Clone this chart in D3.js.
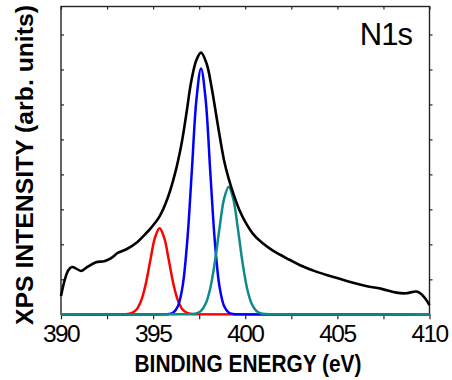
<!DOCTYPE html>
<html>
<head>
<meta charset="utf-8">
<script src="https://cdn.jsdelivr.net/npm/d3@7"></script>
<style>
  body { margin: 0; background: #fff; }
  svg { display: block; }
  text { font-family: "Liberation Sans", Arial, sans-serif; fill: #000; }
</style>
</head>
<body>
<div id="chart"></div>
<script>
// binding energy (eV), intensity (arb. units)
const envelope = [
  [390.0, 0.52], [390.2, 0.98], [390.4, 1.26], [390.6, 1.35], [390.85, 1.30],
  [391.1, 1.24], [391.45, 1.36], [391.9, 1.49], [392.35, 1.52], [392.7, 1.60],
  [393.1, 1.76], [393.55, 1.86], [394.15, 2.07], [394.55, 2.28], [394.9, 2.48],
  [395.35, 2.80], [395.8, 3.34], [396.2, 4.05], [396.55, 4.90], [396.8, 5.72],
  [397.08, 6.69], [397.35, 7.27], [397.6, 7.48], [397.9, 7.17], [398.17, 6.50],
  [398.5, 5.45], [398.85, 4.40], [399.1, 3.88], [399.4, 3.38], [399.7, 2.96],
  [400.0, 2.64], [400.42, 2.30], [400.9, 2.05], [401.5, 1.82], [402.4, 1.56],
  [402.95, 1.41], [403.85, 1.22], [404.7, 1.08], [405.65, 0.93], [406.55, 0.81],
  [407.45, 0.72], [408.2, 0.62], [408.7, 0.60], [409.3, 0.65], [409.55, 0.58],
  [409.8, 0.43], [410.0, 0.26],
];

const peakRed = [
  [390, 0], [393.35, 0], [393.6, 0.008], [393.85, 0.038], [394.1, 0.136],
  [394.35, 0.39], [394.6, 0.87], [394.85, 1.55], [395.1, 2.19], [395.35, 2.46],
  [395.6, 2.19], [395.85, 1.55], [396.1, 0.87], [396.35, 0.39], [396.6, 0.136],
  [396.85, 0.038], [397.1, 0.008], [397.35, 0], [410, 0],
];

const peakBlue = [
  [390, 0], [395.6, 0], [395.85, 0.009], [396.1, 0.053], [396.35, 0.237],
  [396.6, 0.80], [396.85, 2.08], [397.1, 4.09], [397.35, 6.14], [397.6, 7.03],
  [397.85, 6.14], [398.1, 4.09], [398.35, 2.08], [398.6, 0.80], [398.85, 0.237],
  [399.1, 0.053], [399.35, 0.009], [399.6, 0], [410, 0],
];

const peakTeal = [
  [390, 0], [396.85, 0], [397.1, 0.006], [397.35, 0.028], [397.6, 0.10],
  [397.85, 0.30], [398.1, 0.74], [398.35, 1.49], [398.6, 2.45], [398.85, 3.30],
  [399.1, 3.65], [399.35, 3.30], [399.6, 2.45], [399.85, 1.49], [400.1, 0.74],
  [400.35, 0.30], [400.6, 0.10], [400.85, 0.028], [401.1, 0.006], [401.35, 0], [410, 0],
];

const xTicks = [390, 395, 400, 405, 410];
const xMinorTicks = [392.5, 397.5, 402.5, 407.5];
const yTicks = [1, 2, 3, 4, 5, 6, 7, 8];

const width = 452;
const height = 380;
const margin = { top: 6.5, right: 22.5, bottom: 65.7, left: 61 };
const innerW = width - margin.left - margin.right;
const innerH = height - margin.top - margin.bottom;

const svg = d3.select('#chart')
  .append('svg')
  .attr('width', width)
  .attr('height', height);

const g = svg.append('g')
  .attr('transform', `translate(${margin.left},${margin.top})`);

const x = d3.scaleLinear().domain([390, 410]).range([0, innerW]);
const y = d3.scaleLinear().domain([0, 8.8]).range([innerH, 0]);

// frame with small ticks
g.append('g')
  .attr('transform', `translate(0,${innerH})`)
  .call(d3.axisBottom(x).tickValues(xTicks.concat(xMinorTicks)).tickSize(5).tickFormat(''))
  .call(a => a.select('.domain').remove());

g.append('g')
  .call(d3.axisTop(x).tickValues(xTicks.concat(xMinorTicks)).tickSize(-3).tickFormat(''))
  .call(a => a.select('.domain').remove());

g.append('g')
  .call(d3.axisLeft(y).tickValues(yTicks).tickSize(-3).tickFormat(''))
  .call(a => a.select('.domain').remove());

g.append('g')
  .attr('transform', `translate(${innerW},0)`)
  .call(d3.axisRight(y).tickValues(yTicks).tickSize(3).tickFormat(''))
  .call(a => a.select('.domain').remove());

g.selectAll('.tick line').attr('stroke', '#222').attr('stroke-width', 1.2);

g.append('rect')
  .attr('width', innerW)
  .attr('height', innerH)
  .attr('fill', 'none')
  .attr('stroke', '#222')
  .attr('stroke-width', 1.4);

// tick labels
g.selectAll('.xlabel')
  .data(xTicks)
  .enter()
  .append('text')
  .attr('class', 'xlabel')
  .attr('x', d => x(d))
  .attr('y', innerH + 28)
  .attr('text-anchor', 'middle')
  .attr('font-size', 24.5)
  .attr('letter-spacing', -1.6)
  .text(d => d);

const line = d3.line()
  .x(d => x(d[0]))
  .y(d => y(d[1]))
  .curve(d3.curveCatmullRom.alpha(0.5));

const series = [
  { data: peakRed, color: '#ff0000', w: 2.5 },
  { data: peakBlue, color: '#0000ff', w: 2.5 },
  { data: peakTeal, color: '#0f8a8a', w: 2.5 },
  { data: envelope, color: '#000000', w: 2.6 },
];

g.selectAll('.curve')
  .data(series)
  .enter()
  .append('path')
  .attr('class', 'curve')
  .attr('d', d => line(d.data))
  .attr('fill', 'none')
  .attr('stroke', d => d.color)
  .attr('stroke-width', d => d.w)
  .attr('stroke-linejoin', 'round');

// annotation
g.append('text')
  .attr('x', 351)
  .attr('y', 38.5)
  .attr('text-anchor', 'end')
  .attr('font-size', 31)
  .attr('letter-spacing', -1)
  .text('N1s');

// axis titles
svg.append('text')
  .attr('x', 248)
  .attr('y', 372)
  .attr('text-anchor', 'middle')
  .attr('font-size', 24)
  .attr('font-weight', 'bold')
  .attr('textLength', 227)
  .attr('lengthAdjust', 'spacingAndGlyphs')
  .text('BINDING  ENERGY (eV)');

svg.append('text')
  .attr('transform', 'translate(33,165) rotate(-90)')
  .attr('text-anchor', 'middle')
  .attr('font-size', 24)
  .attr('font-weight', 'bold')
  .attr('textLength', 320)
  .attr('lengthAdjust', 'spacingAndGlyphs')
  .text('XPS  INTENSITY  (arb. units)');
</script>
</body>
</html>
